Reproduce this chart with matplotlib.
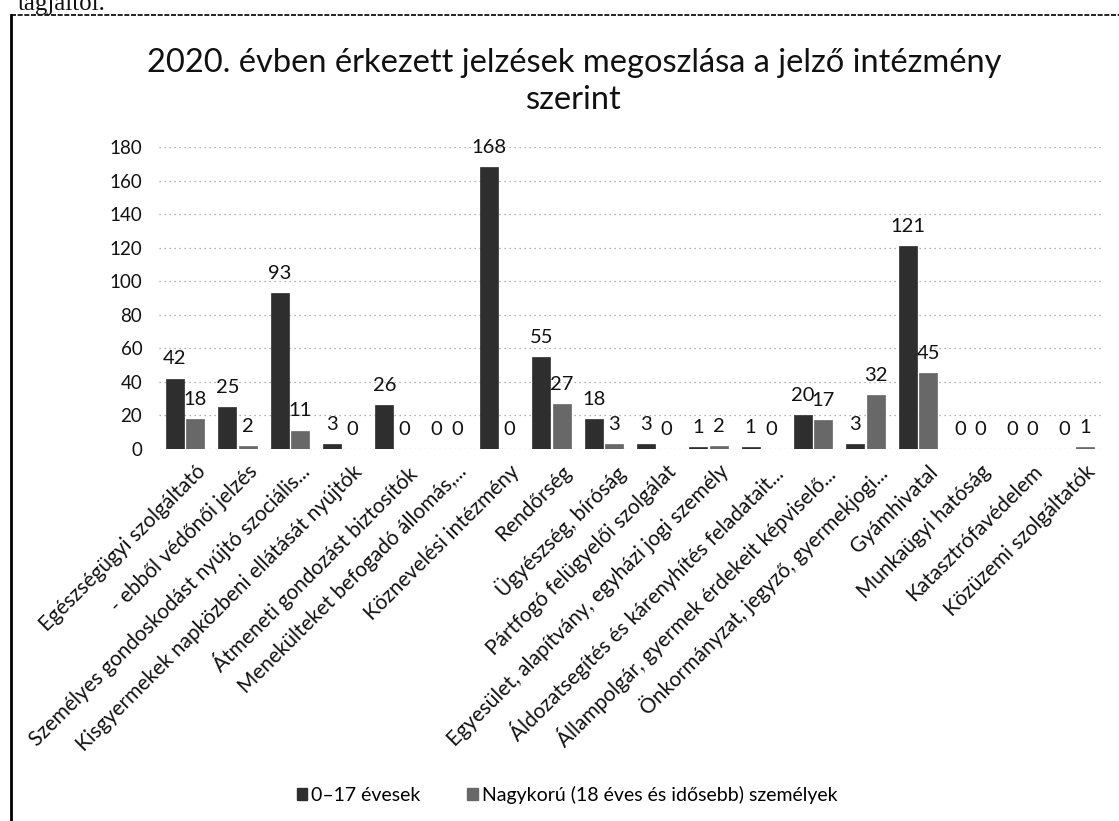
import matplotlib
matplotlib.use("Agg")
import matplotlib.pyplot as plt
import matplotlib.transforms as mtransforms
import numpy as np
from matplotlib.lines import Line2D
from matplotlib.patches import Patch

plt.rcParams['font.family'] = ['Lato', 'DejaVu Sans']

categories = [
    "Egészségügyi szolgáltató",
    "- ebből védőnői jelzés",
    "Személyes gondoskodást nyújtó szociális...",
    "Kisgyermekek napközbeni ellátását nyújtók",
    "Átmeneti gondozást biztosítók",
    "Menekülteket befogadó állomás,...",
    "Köznevelési intézmény",
    "Rendőrség",
    "Ügyészség, bíróság",
    "Pártfogó felügyelői szolgálat",
    "Egyesület, alapítvány, egyházi jogi személy",
    "Áldozatsegítés és kárenyhítés feladatait...",
    "Állampolgár, gyermek érdekeit képviselő...",
    "Önkormányzat, jegyző, gyermekjogi...",
    "Gyámhivatal",
    "Munkaügyi hatóság",
    "Katasztrófavédelem",
    "Közüzemi szolgáltatók",
]
minors = [42, 25, 93, 3, 26, 0, 168, 55, 18, 3, 1, 1, 20, 3, 121, 0, 0, 0]
adults = [18, 2, 11, 0, 0, 0, 0, 27, 3, 0, 2, 0, 17, 32, 45, 0, 0, 1]
series_names = ["0\u201317 évesek", "Nagykorú (18 éves és idősebb) személyek"]
yticks = [0, 20, 40, 60, 80, 100, 120, 140, 160, 180]
title = "2020. évben érkezett jelzések megoszlása a jelző intézmény\nszerint"

W, H = 1119, 821
fig = plt.figure(figsize=(W / 100, H / 100), dpi=100)
ax = fig.add_axes([159 / W, 1 - 449 / H, (1101 - 159) / W, (449 - 147) / H])

x = np.arange(len(categories))
bw = 0.34
gap = 0.05
c1, c2 = "#2e2e2e", "#686868"
b1 = ax.bar(x - (bw + gap) / 2, minors, bw, color=c1, edgecolor=c1, linewidth=0.5)
b2 = ax.bar(x + (bw + gap) / 2, adults, bw, color=c2, edgecolor=c2, linewidth=0.5)
for bars in (b1, b2):
    ax.bar_label(bars, padding=8, fontsize=14.5, color="#111111")

ax.set_ylim(0, 180)
ax.set_xlim(-0.5, len(categories) - 0.5)
ax.set_yticks(yticks)
ax.set_yticklabels([str(v) for v in yticks], fontsize=13.5, color="#111111")
ax.tick_params(axis="y", length=0, pad=12)
ax.tick_params(axis="x", length=0, pad=9)
ax.set_xticks(x)
ax.set_xticklabels(categories, rotation=45, ha="right", rotation_mode="anchor",
                   fontsize=15, color="#111111")
shift = mtransforms.ScaledTranslation(0.10, 0, fig.dpi_scale_trans)
for lbl in ax.get_xticklabels():
    lbl.set_transform(lbl.get_transform() + shift)
ax.grid(axis="y", color="#9a9a9a", linestyle=(0, (1, 3)), linewidth=0.9)
ax.set_axisbelow(True)
for s in ax.spines.values():
    s.set_visible(False)

fig.text(574 / W, 1 - 48 / H, title, ha="center", va="top", fontsize=23.5,
         linespacing=1.3, color="#111111")

handles = [Patch(facecolor=c1, edgecolor=c1), Patch(facecolor=c2, edgecolor=c2)]
fig.legend(handles, series_names, loc="center", bbox_to_anchor=(567 / W, 1 - 795 / H),
           ncol=2, frameon=False, fontsize=14, handlelength=0.55, handleheight=0.55,
           handletextpad=0.2, columnspacing=2.4)

# frame of the embedded chart
fig.add_artist(Line2D([11 / W, 11 / W], [0, 1 - 15 / H], transform=fig.transFigure,
                      color="black", linewidth=2))
fig.add_artist(Line2D([11 / W, 1], [1 - 15 / H, 1 - 15 / H], transform=fig.transFigure,
                      color="black", linewidth=1.2, linestyle=(0, (3, 1))))
fig.text(18 / W, 1 - 10 / H, "tagjaitól.", fontsize=18, family="Liberation Serif",
         ha="left", va="baseline", color="#111111")

fig.savefig("out.png", dpi=100, facecolor="white")
